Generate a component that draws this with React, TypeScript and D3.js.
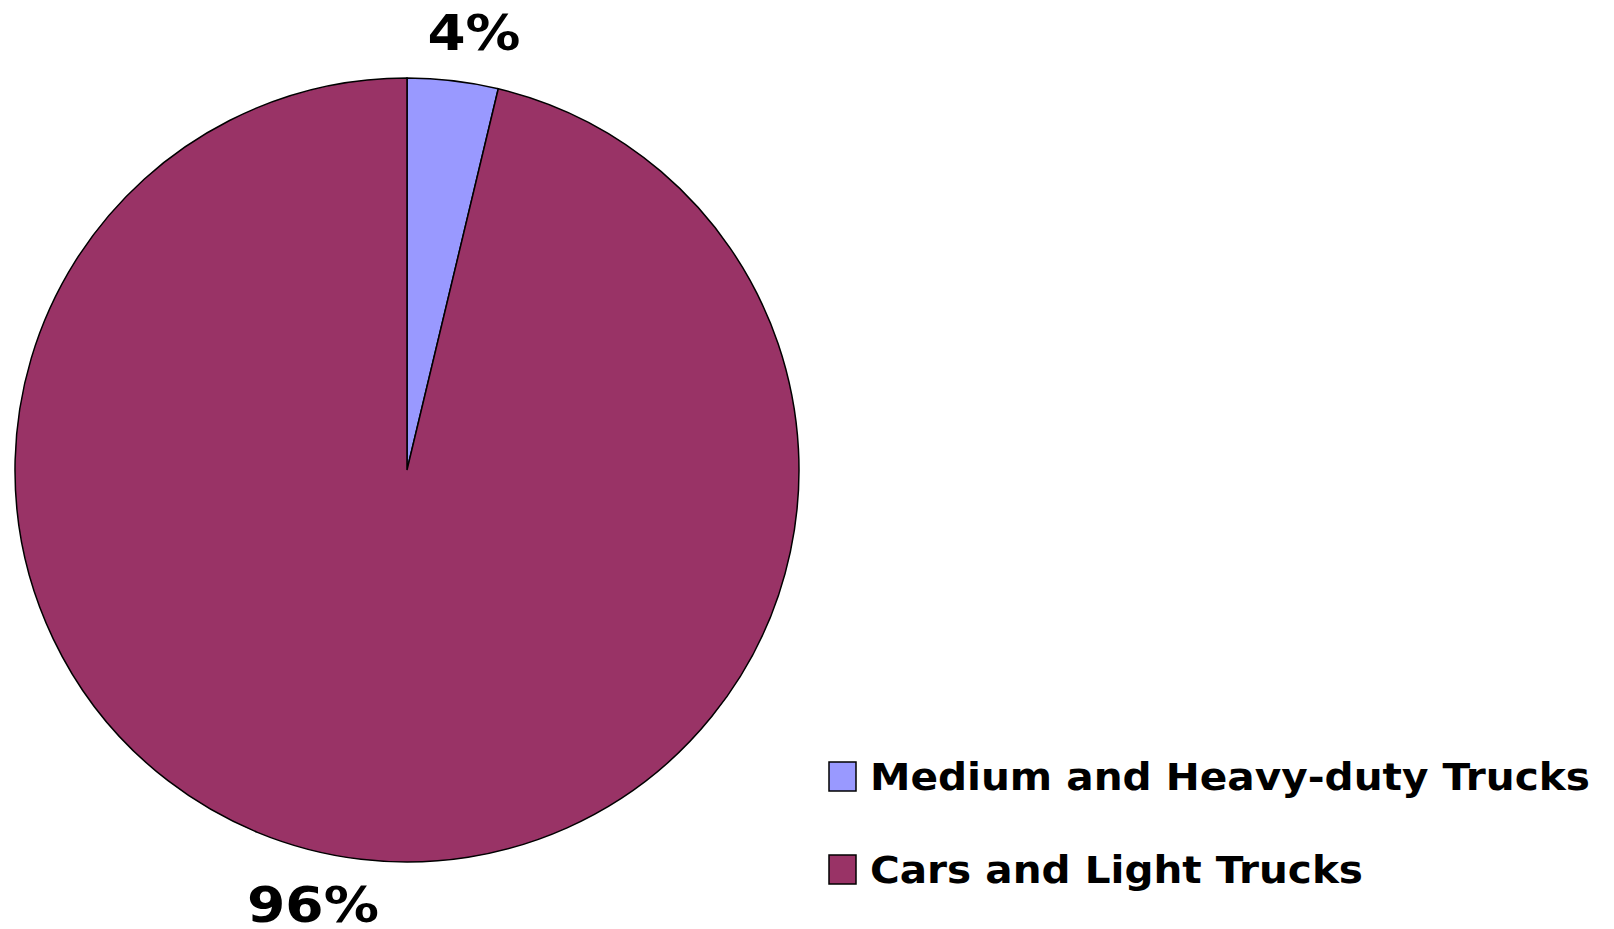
import React from "react";
import * as d3 from "d3";

const categories = ["Medium and Heavy-duty Trucks", "Cars and Light Trucks"];
const values = [3.74, 96.26];
const labels = ["4%", "96%"];
const colors = ["#9999FF", "#993366"];

const W = 1614;
const H = 929;
const cx = 407;
const cy = 470;
const R = 392;

export default function App() {
  const pie = d3.pie<number>().sort(null).value((d) => d)(values);
  const arc = d3.arc<d3.PieArcDatum<number>>().innerRadius(0).outerRadius(R);
  const font = "'DejaVu Sans', Verdana, sans-serif";
  const labelPos = [
    { x: 474, y: 50, w: 93 },
    { x: 313, y: 922, w: 132 },
  ];
  const legendW = [720, 493];
  return (
    <svg width={W} height={H} style={{ position: "absolute", left: 0, top: 0, background: "#fff" }}>
      <g transform={`translate(${cx},${cy})`}>
        {pie.map((p, i) => (
          <path key={i} d={arc(p) || ""} fill={colors[i]} stroke="#000" strokeWidth={1.5} />
        ))}
      </g>
      {labels.map((t, i) => (
        <text
          key={i}
          x={labelPos[i].x - labelPos[i].w / 2}
          y={labelPos[i].y}
          textLength={labelPos[i].w}
          lengthAdjust="spacingAndGlyphs"
          fontFamily={font}
          fontWeight="bold"
          fontSize={50}
          fill="#000"
        >
          {t}
        </text>
      ))}
      {categories.map((c, i) => (
        <g key={c} transform={`translate(829,${762 + i * 93})`}>
          <rect x={0} y={0} width={27} height={29} fill={colors[i]} stroke="#000" strokeWidth={1.5} />
          <text
            x={41}
            y={28}
            textLength={legendW[i]}
            lengthAdjust="spacingAndGlyphs"
            fontFamily={font}
            fontWeight="bold"
            fontSize={37}
            fill="#000"
          >
            {c}
          </text>
        </g>
      ))}
    </svg>
  );
}
